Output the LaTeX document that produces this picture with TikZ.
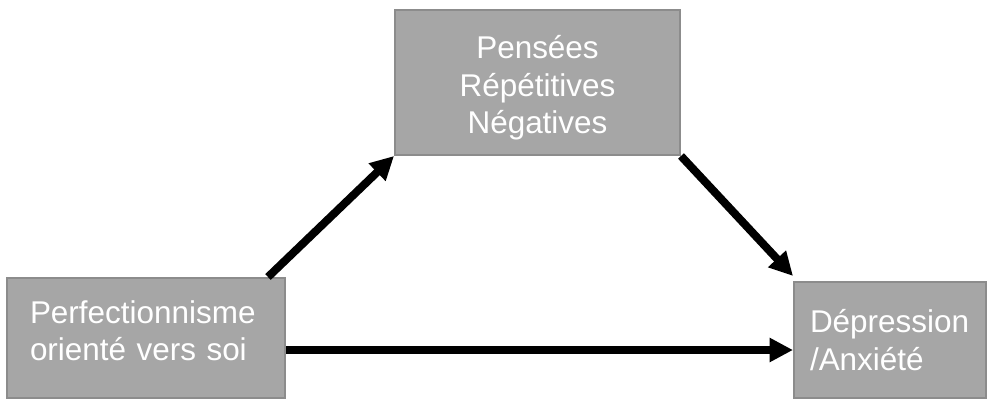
\documentclass[tikz,border=0pt]{standalone}
\usepackage{fontspec}
\setmainfont{Liberation Sans}
\usetikzlibrary{arrows.meta}

\begin{document}
\begin{tikzpicture}[
	box/.style={draw=black!45, line width=0.04cm, fill=black!35, text=white, font=\fontsize{17.9}{21.3}\selectfont},
	arr/.style={line width=0.16cm, -{Triangle[length=0.47cm, width=0.46cm]}}]
			%%%%% START %%%%%
			
			\useasboundingbox (0, 0) rectangle (19.78, 8.02);
			
			\node[box, minimum width=5.7cm, minimum height=2.9cm, align=center, text height=2.17cm] (prt) at (10.75, 6.37) {Pensées\\Répétitives\\Négatives};
			
			\node[box, minimum width=5.56cm, minimum height=2.4cm, inner xsep=0.46cm, text width=4.64cm, align=left, text depth=1.05cm] (pf) at (2.92, 1.26) {Perfectionnisme\\orienté vers soi};
			
			\node[box, minimum width=3.84cm, minimum height=2.32cm, inner xsep=0.32cm, text width=3.2cm, align=left] (da) at (17.8, 1.22) {Dépression\\/Anxiété};
			
			\draw[arr] ([xshift=-0.36cm]pf.north east) -- (prt.south west);
			\draw[arr] (prt.south east) -- ([yshift=0.1cm]da.north west);
			\draw[arr] ([yshift=-0.24cm]pf.east) -- ([yshift=-0.24cm]pf.east -| da.west);
			
			%%%%% END %%%%%
		\end{tikzpicture}
\end{document}
